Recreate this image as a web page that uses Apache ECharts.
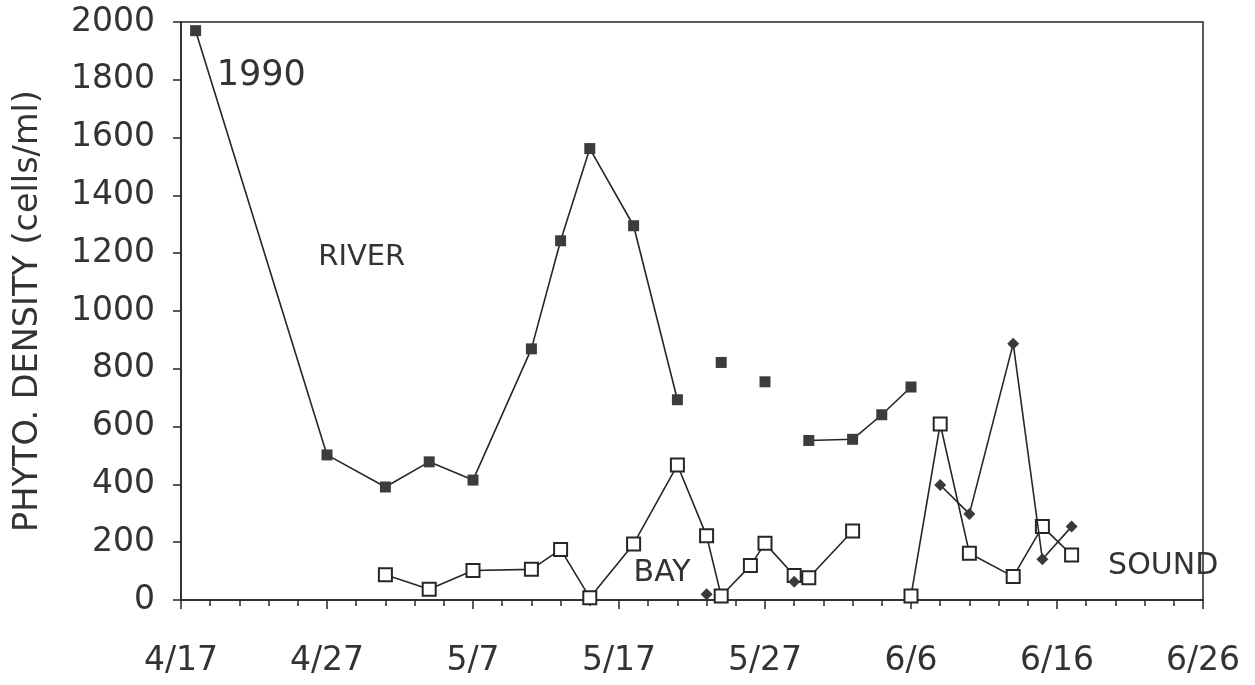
<!DOCTYPE html>
<html>
<head>
<meta charset="utf-8">
<title>Phytoplankton density, 1990</title>
<script src="https://cdn.jsdelivr.net/npm/echarts@6/dist/echarts.min.js"></script>
<style>
  html, body { margin: 0; padding: 0; background: #fff; }
  #chart { width: 1255px; height: 685px; }
</style>
</head>
<body>
<div id="chart"></div>
<script>
// Sampling dates (1990) and densities in cells/ml for each station.
const riverDates  = ['4/18', '4/27', '5/1', '5/4', '5/7', '5/11', '5/13', '5/15', '5/18', '5/21', '5/24', '5/27', '5/30', '6/2', '6/4', '6/6'];
const riverValues = [1970, 502, 391, 478, 415, 869, 1243, 1562, 1295, 693, 822, 755, 552, 556, 641, 737];
const riverBreaks = ['5/21', '5/24', '5/27'];   // no connecting line after these samples

const bayDates  = ['5/1', '5/4', '5/7', '5/11', '5/13', '5/15', '5/18', '5/21', '5/23', '5/24', '5/26', '5/27', '5/29', '5/30', '6/2', '6/6', '6/8', '6/10', '6/13', '6/15', '6/17'];
const bayValues = [87, 37, 102, 106, 175, 8, 194, 467, 222, 14, 119, 196, 85, 77, 239, 14, 609, 162, 81, 254, 156];
const bayBreaks = ['6/2'];

const soundDates  = ['5/23', '5/29', '6/8', '6/10', '6/13', '6/15', '6/17'];
const soundValues = [20, 63, 398, 298, 887, 141, 254];
const soundBreaks = ['5/23', '5/29'];

const xTickLabels = ['4/17', '4/27', '5/7', '5/17', '5/27', '6/6', '6/16', '6/26'];
const yTickLabels = ['0', '200', '400', '600', '800', '1000', '1200', '1400', '1600', '1800', '2000'];

// Days elapsed since 4/17/1990 for an "m/d" string.
const ORIGIN = Date.UTC(1990, 3, 17);
function dayOf(md) {
  const [m, d] = md.split('/').map(Number);
  return (Date.UTC(1990, m - 1, d) - ORIGIN) / 86400000;
}

// Build [day, value] pairs; a '-' entry after a break date leaves a gap in the line.
function buildSeries(dates, values, breaks) {
  const out = [];
  dates.forEach((md, i) => {
    const d = dayOf(md);
    out.push([d, values[i]]);
    if (breaks.includes(md) && i < dates.length - 1) out.push([d + 0.5, '-']);
  });
  return out;
}

const INK = '#262626';
const FONT = '"DejaVu Sans", sans-serif';

const chart = echarts.init(document.getElementById('chart'), null, { renderer: 'canvas' });

chart.setOption({
  animation: false,
  backgroundColor: '#ffffff',
  grid: {
    left: 181, right: 52, top: 22, bottom: 85,
    show: true, borderColor: INK, borderWidth: 1.5, backgroundColor: 'transparent'
  },
  xAxis: {
    type: 'value',
    min: 0, max: 70, interval: 10,
    axisLine: { show: true, onZero: false, lineStyle: { color: INK, width: 1.5 } },
    axisTick: { show: true, inside: false, length: 9, lineStyle: { color: INK, width: 1.5 } },
    minorTick: { show: true, splitNumber: 5, length: 6, lineStyle: { color: INK, width: 1.5 } },
    splitLine: { show: false },
    minorSplitLine: { show: false },
    axisLabel: {
      margin: 45, color: '#333', fontFamily: FONT, fontSize: 33,
      formatter: v => xTickLabels[Math.round(v / 10)] || ''
    }
  },
  yAxis: {
    type: 'value',
    min: 0, max: 2000, interval: 200,
    name: 'PHYTO. DENSITY (cells/ml)',
    nameLocation: 'middle',
    nameGap: 136,
    nameRotate: 90,
    nameTextStyle: { color: '#333', fontFamily: FONT, fontSize: 33.5 },
    axisLine: { show: true, lineStyle: { color: INK, width: 1.5 } },
    axisTick: { show: true, inside: false, length: 8, lineStyle: { color: INK, width: 1.5 } },
    splitLine: { show: false },
    axisLabel: {
      margin: 26, color: '#333', fontFamily: FONT, fontSize: 33,
      formatter: v => yTickLabels[Math.round(v / 200)] || ''
    }
  },
  series: [
    {
      name: 'BAY', type: 'line', z: 2,
      data: buildSeries(bayDates, bayValues, bayBreaks),
      connectNulls: false,
      symbol: 'rect', symbolSize: 13,
      lineStyle: { color: INK, width: 1.6 },
      itemStyle: { color: '#ffffff', borderColor: INK, borderWidth: 2 }
    },
    {
      name: 'RIVER', type: 'line', z: 3,
      data: buildSeries(riverDates, riverValues, riverBreaks),
      connectNulls: false,
      symbol: 'rect', symbolSize: 11,
      lineStyle: { color: INK, width: 1.6 },
      itemStyle: { color: '#3c3c3c', borderWidth: 0 }
    },
    {
      name: 'SOUND', type: 'line', z: 4,
      data: buildSeries(soundDates, soundValues, soundBreaks),
      connectNulls: false,
      symbol: 'diamond', symbolSize: 12,
      lineStyle: { color: INK, width: 1.6 },
      itemStyle: { color: '#3a3a3a', borderWidth: 0 }
    }
  ]
});

// In-plot labels anchored at data coordinates (day offset, density).
const notes = [
  { text: '1990',  at: [2.45, 1815], size: 35 },
  { text: 'RIVER', at: [9.4, 1184],  size: 29 },
  { text: 'BAY',   at: [31.0, 94],   size: 30 },
  { text: 'SOUND', at: [63.5, 118],  size: 30 }
];
chart.setOption({
  graphic: notes.map(n => {
    const [px, py] = chart.convertToPixel({ gridIndex: 0 }, n.at);
    return {
      type: 'text', x: px, y: py, z: 10,
      style: {
        text: n.text, fill: '#333', font: n.size + 'px ' + FONT,
        textAlign: 'left', textVerticalAlign: 'middle'
      }
    };
  })
});
</script>
</body>
</html>
